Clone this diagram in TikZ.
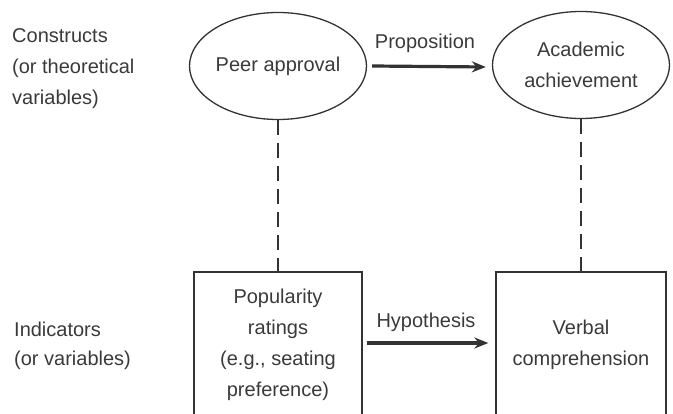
\documentclass[tikz,border=0pt]{standalone}
\usepackage{fontspec}
\setmainfont{Liberation Sans}
\usetikzlibrary{arrows.meta,shapes.geometric}
\definecolor{ink}{HTML}{3A3A3A}
\definecolor{linec}{HTML}{333333}
\begin{document}
\begin{tikzpicture}[x=1pt,y=-1pt,
  every node/.style={text=ink, font=\fontsize{20}{31}\selectfont},
  construct/.style={draw=linec, line width=1.3pt, ellipse, align=center,
    minimum width=177pt, minimum height=107pt, inner sep=0pt},
  indicator/.style={draw=linec, line width=1.3pt, rectangle, align=center,
    minimum width=168pt, minimum height=146pt, inner sep=0pt},
  sidelabel/.style={anchor=west, align=left, inner sep=0pt},
  linklabel/.style={inner sep=0pt},
  dashlink/.style={draw=linec, line width=1.4pt, dash pattern=on 15pt off 8pt},
  relarrow/.style={draw=linec, line width=3.2pt, -{Stealth[length=14pt,width=11pt]}}]
\useasboundingbox (0,0) rectangle (673,414);
\clip (0,0) rectangle (673,414);

% side labels
\node[sidelabel] (cons) at (12,69) {Constructs\\(or theoretical\\variables)};
\node[sidelabel,font=\fontsize{20}{29}\selectfont] (ind) at (14,346) {Indicators\\(or variables)};

% constructs
\node[construct] (pa) at (278,66) {Peer approval};
\node[construct] (aa) at (581,65) {Academic\\achievement};

% indicators
\node[indicator] (pop) at (278,345) {Popularity\\ratings\\(e.g., seating\\preference)};
\node[indicator, minimum width=170pt] (vc) at (581,345) {Verbal\\comprehension};

% dashed links
\draw[dashlink] (pa.south) -- (pa.south |- pop.north);
\draw[dashlink] (aa.south) -- (aa.south |- vc.north);

% arrows
\draw[relarrow] ([xshift=5pt]pa.east) -- ([xshift=-6pt,yshift=-1pt]pa.east -| aa.west);
\draw[relarrow] ([xshift=4pt,yshift=2pt]pop.east) -- ([xshift=-7pt,yshift=2pt]pop.east -| vc.west);

% arrow labels
\node[linklabel] (prop) at (425,43) {Proposition};
\node[linklabel] (hyp) at (426,322) {Hypothesis};
\end{tikzpicture}
\end{document}
